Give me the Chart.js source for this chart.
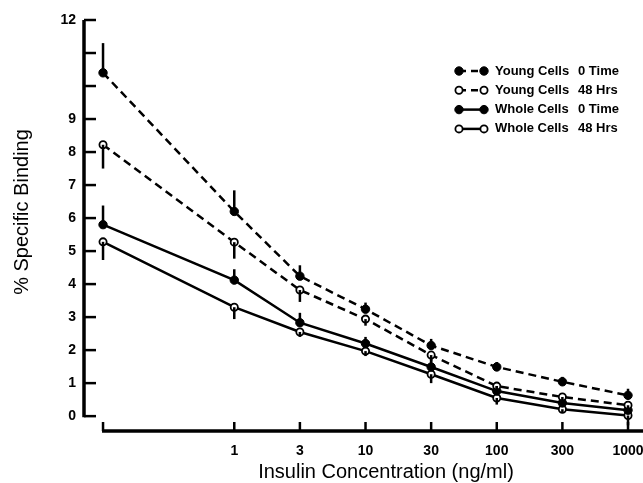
<!DOCTYPE html>
<html lang="en">
<head>
    <meta charset="UTF-8">
    <title>Insulin binding</title>
    <script src="https://cdn.jsdelivr.net/npm/chart.js@4.4.0/dist/chart.umd.min.js"></script>
    <style>
        body { margin: 0; background: #fff; }
        .wrap { width: 643px; height: 483px; position: relative; }
    </style>
</head>
<body>
    <div class="wrap"><canvas id="myChart"></canvas></div>

    <script type="text/javascript">

        // insulin concentration (ng/ml); first point is the zero / no-insulin control
        var concentrations = ['0', '1', '3', '10', '30', '100', '300', '1000'];
        var yTickLabels = ['0', '1', '2', '3', '4', '5', '6', '7', '8', '9', '12'];

        var seriesNames = ['Young Cells', 'Young Cells', 'Whole Cells', 'Whole Cells'];
        var seriesTimes = ['0 Time', '48 Hrs', '0 Time', '48 Hrs'];

        var youngZero = [10.4, 6.2, 4.24, 3.24, 2.14, 1.49, 1.04, 0.63];
        var youngZeroErr = [0.9, 0.64, 0.33, 0.2, 0.2, 0.15, 0.15, 0.2];
        var young48 = [8.22, 5.27, 3.82, 2.94, 1.85, 0.91, 0.58, 0.33];
        var young48Err = [0.72, 0.5, 0.36, 0.2, 0.2, 0.15, 0.12, 0.1];
        var wholeZero = [5.8, 4.12, 2.83, 2.2, 1.49, 0.76, 0.4, 0.18];
        var wholeZeroErr = [0.58, 0.33, 0.3, 0.2, 0.25, 0.15, 0.1, 0.1];
        var whole48 = [5.28, 3.3, 2.55, 1.97, 1.27, 0.55, 0.21, 0.02];
        var whole48Err = [0.55, 0.36, 0.15, 0.15, 0.27, 0.2, 0.1, 0.3];

        // axis position: the zero control sits two steps left of 1 ng/ml
        function xPos(i) { return i === 0 ? 0 : i + 1; }
        var xTicks = concentrations.map(function(c, i) { return xPos(i); });

        function pts(arr) {
            return arr.map(function(v, i) { return {x: xPos(i), y: v}; });
        }

        var FONT = "'Liberation Sans', Arial, sans-serif";

        function makeSet(i, values, errs, filled, dashed) {
            return {
                label: seriesNames[i] + ' ' + seriesTimes[i],
                data: pts(values),
                errors: errs,
                filled: filled,
                borderColor: '#000',
                borderWidth: 2.5,
                borderDash: dashed ? [8, 5] : [],
                pointRadius: filled ? 4.2 : 3.6,
                pointBorderWidth: filled ? 1 : 1.8,
                pointBackgroundColor: filled ? '#000' : '#fff',
                pointBorderColor: '#000',
                tension: 0,
                fill: false
            };
        }

        var decor = {
            id: 'decor',
            afterDatasetsDraw: function(chart) {
                var ctx = chart.ctx;
                var xs = chart.scales.x, ys = chart.scales.y;
                ctx.save();
                ctx.strokeStyle = '#000';
                ctx.setLineDash([]);

                // error bars: up for filled symbols, down for open ones
                ctx.lineWidth = 2.5;
                chart.data.datasets.forEach(function(ds) {
                    ds.data.forEach(function(p, j) {
                        var px = xs.getPixelForValue(p.x);
                        var y0 = ys.getPixelForValue(p.y);
                        var y1 = ys.getPixelForValue(ds.filled ? p.y + ds.errors[j] : p.y - ds.errors[j]);
                        ctx.beginPath();
                        ctx.moveTo(px, y0);
                        ctx.lineTo(px, y1);
                        ctx.stroke();
                    });
                });
                ctx.restore();
            },
            afterDraw: function(chart) {
                var ctx = chart.ctx;
                var xs = chart.scales.x, ys = chart.scales.y;
                var area = chart.chartArea;
                ctx.save();
                ctx.strokeStyle = '#000';
                ctx.fillStyle = '#000';

                // y axis
                var ax = area.left;
                ctx.lineWidth = 3.5;
                ctx.beginPath();
                ctx.moveTo(ax, ys.getPixelForValue(12));
                ctx.lineTo(ax, ys.getPixelForValue(0) + 1);
                ctx.stroke();
                ctx.lineWidth = 2.5;
                for (var v = 0; v <= 12; v++) {
                    var ty = ys.getPixelForValue(v);
                    ctx.beginPath();
                    ctx.moveTo(ax, ty);
                    ctx.lineTo(ax + 12, ty);
                    ctx.stroke();
                }

                // x axis
                var ay = area.bottom;
                ctx.lineWidth = 3.5;
                ctx.beginPath();
                ctx.moveTo(xs.getPixelForValue(0) - 1, ay);
                ctx.lineTo(chart.width, ay);
                ctx.stroke();
                ctx.lineWidth = 2.5;
                xTicks.forEach(function(t) {
                    var tx = xs.getPixelForValue(t);
                    ctx.beginPath();
                    ctx.moveTo(tx, ay);
                    ctx.lineTo(tx, ay - 9);
                    ctx.stroke();
                });

                // axis titles
                ctx.font = '20px ' + FONT;
                ctx.textAlign = 'center';
                ctx.textBaseline = 'middle';
                ctx.fillText('Insulin Concentration (ng/ml)', 386, 472);
                ctx.save();
                ctx.translate(22, 212);
                ctx.rotate(-Math.PI / 2);
                ctx.fillText('% Specific Binding', 0, 0);
                ctx.restore();

                // legend
                ctx.font = 'bold 13px ' + FONT;
                ctx.textAlign = 'left';
                chart.data.datasets.forEach(function(ds, i) {
                    var ly = 71 + i * 19.3;
                    ctx.lineWidth = 2.5;
                    ctx.setLineDash(ds.borderDash.length ? [7, 5] : []);
                    ctx.beginPath();
                    ctx.moveTo(459, ly);
                    ctx.lineTo(484, ly);
                    ctx.stroke();
                    ctx.setLineDash([]);
                    [459, 484].forEach(function(cx) {
                        ctx.beginPath();
                        ctx.arc(cx, ly, ds.pointRadius, 0, Math.PI * 2);
                        ctx.fillStyle = ds.pointBackgroundColor;
                        ctx.fill();
                        ctx.lineWidth = ds.pointBorderWidth;
                        ctx.stroke();
                    });
                    ctx.fillStyle = '#000';
                    ctx.fillText(seriesNames[i], 495, ly);
                    ctx.fillText(seriesTimes[i], 578, ly);
                });
                ctx.restore();
            }
        };

        var ctx = document.getElementById('myChart').getContext('2d');
        var myChart = new Chart(ctx, {
            type: 'line',
            data: {
                datasets: [
                    makeSet(0, youngZero, youngZeroErr, true, true),
                    makeSet(1, young48, young48Err, false, true),
                    makeSet(2, wholeZero, wholeZeroErr, true, false),
                    makeSet(3, whole48, whole48Err, false, false)
                ]
            },
            options: {
                responsive: true,
                maintainAspectRatio: false,
                animation: false,
                layout: { padding: { left: 44, top: 20, right: 2, bottom: 0 } },
                plugins: {
                    legend: { display: false },
                    tooltip: { enabled: false }
                },
                scales: {
                    x: {
                        type: 'linear',
                        min: -0.29,
                        max: 8.14,
                        grid: { display: false },
                        border: { display: false },
                        afterBuildTicks: function(axis) {
                            axis.ticks = xTicks.map(function(t) { return {value: t}; });
                        },
                        afterFit: function(axis) {
                            axis.height = 52;
                            axis.paddingLeft = 0;
                            axis.paddingRight = 0;
                        },
                        ticks: {
                            color: '#000',
                            padding: 4,
                            maxRotation: 0,
                            autoSkip: false,
                            font: { family: FONT, size: 14, weight: 'bold' },
                            callback: function(value) {
                                var i = xTicks.indexOf(value);
                                return i > 0 ? concentrations[i] : '';
                            }
                        }
                    },
                    y: {
                        min: -0.45,
                        max: 12,
                        grid: { display: false },
                        border: { display: false },
                        afterBuildTicks: function(axis) {
                            var t = [];
                            for (var v = 0; v <= 12; v++) t.push({value: v});
                            axis.ticks = t;
                        },
                        afterFit: function(axis) {
                            axis.width = 40;
                            axis.paddingTop = 0;
                            axis.paddingBottom = 0;
                        },
                        ticks: {
                            color: '#000',
                            padding: 0,
                            autoSkip: false,
                            font: { family: FONT, size: 14, weight: 'bold' },
                            callback: function(value) {
                                return yTickLabels.indexOf(String(value)) >= 0 ? String(value) : '';
                            }
                        }
                    }
                }
            },
            plugins: [decor]
        });
    </script>
</body>
</html>
